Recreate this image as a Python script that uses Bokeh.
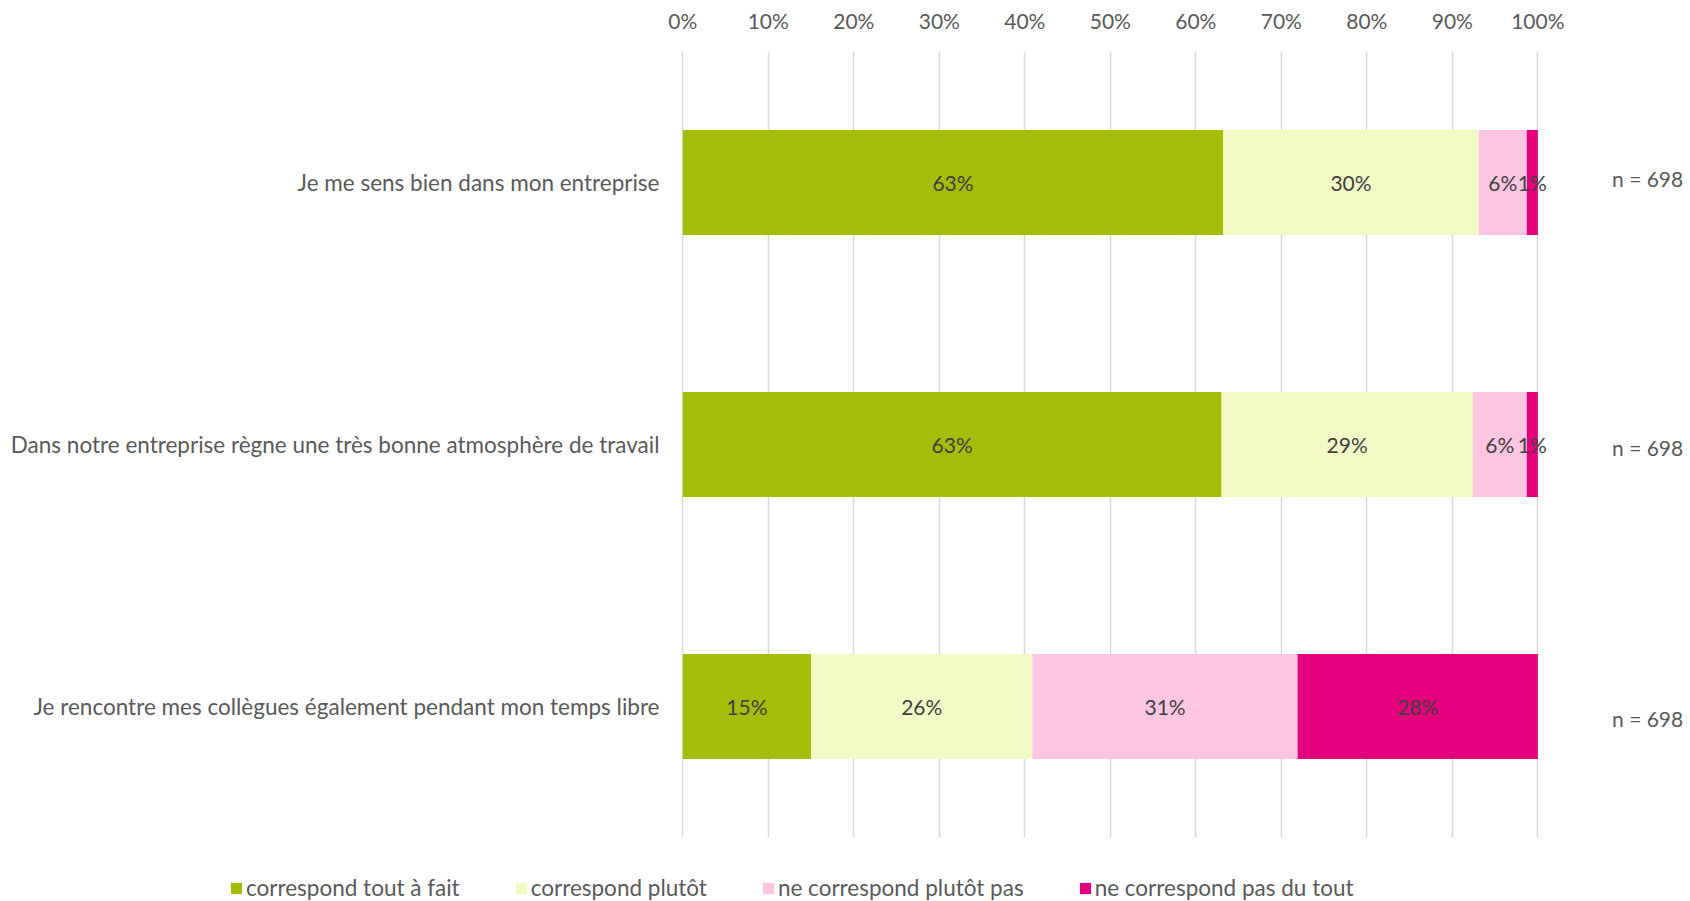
from bokeh.plotting import figure
from bokeh.models import (Range1d, FactorRange, FixedTicker, Legend, LegendItem,
                          ColumnDataSource)
from bokeh.core.properties import value
from bokeh.embed import file_html
from bokeh.resources import INLINE

categories = [
    "Je me sens bien dans mon entreprise",
    "Dans notre entreprise règne une très bonne atmosphère de travail",
    "Je rencontre mes collègues également pendant mon temps libre",
]
series_names = ["correspond tout à fait", "correspond plutôt",
                "ne correspond plutôt pas", "ne correspond pas du tout"]
tout_a_fait = [63.2, 63.0, 15.0]
plutot = [29.9, 29.4, 25.9]
plutot_pas = [5.6, 6.3, 31.0]
pas_du_tout = [1.3, 1.3, 28.1]
n_labels = ["n = 698", "n = 698", "n = 698"]
x_ticks = [0, 10, 20, 30, 40, 50, 60, 70, 80, 90, 100]

colors = ["#A5BD09", "#F3F9C5", "#FEC5E3", "#E5007D"]
series = [tout_a_fait, plutot, plutot_pas, pas_du_tout]

FONT = "Lato"
GREY = "#595959"

W = 1690
H_MAIN, H_LEG = 856, 45

p = figure(width=W, height=H_MAIN, output_backend="svg", toolbar_location=None,
           x_range=Range1d(-0.15, 117.85), y_range=FactorRange(*reversed(categories)),
           x_axis_location="above", min_border_left=681, min_border_right=0,
           min_border_top=51, min_border_bottom=19)
p.outline_line_color = None
p.ygrid.grid_line_color = None
p.xgrid.ticker = FixedTicker(ticks=x_ticks)
p.xgrid.grid_line_color = "#D9D9D9"
p.xgrid.grid_line_width = 1.5

xa = p.xaxis[0]
xa.ticker = FixedTicker(ticks=x_ticks)
xa.major_label_overrides = {t: f"{t}%" for t in x_ticks}
xa.axis_line_color = None
xa.major_tick_line_color = None
xa.minor_tick_line_color = None
xa.major_label_standoff = 13
xa.major_label_text_font = FONT
xa.major_label_text_font_size = "21px"
xa.major_label_text_color = GREY

ya = p.yaxis[0]
ya.axis_line_color = None
ya.major_tick_line_color = None
ya.minor_tick_line_color = None
ya.major_label_standoff = 16
ya.major_label_text_font = FONT
ya.major_label_text_font_size = "22.5px"
ya.major_label_text_color = GREY

left = [0.0] * len(categories)
for name, vals, col in zip(series_names, series, colors):
    right = [l + v for l, v in zip(left, vals)]
    src = ColumnDataSource(dict(y=categories, left=left, right=right,
                                mid=[(l + r) / 2 for l, r in zip(left, right)],
                                lab=[f"{round(v)}%" for v in vals]))
    p.hbar(y="y", left="left", right="right", height=0.4, source=src,
           fill_color=col, line_color=None)
    p.text(x="mid", y="y", text="lab", source=src, text_align="center",
           text_baseline="middle", text_font=value(FONT), text_font_size="21px",
           text_color="#404040")
    left = right

n_src = ColumnDataSource(dict(x=[117.0] * 3, y=categories, t=n_labels,
                              dy=[-4, 3, 12]))
p.text(x="x", y="y", text="t", source=n_src, text_align="right", y_offset="dy",
       text_baseline="middle", text_font=value(FONT), text_font_size="21px",
       text_color=GREY)

# legend strip (separate root so that its frame spans the full width)
lg = figure(width=W, height=H_LEG, output_backend="svg", toolbar_location=None,
            x_range=Range1d(0, 1), y_range=Range1d(0, 1),
            min_border=0, min_border_left=0, min_border_right=0,
            min_border_top=0, min_border_bottom=0)
lg.axis.visible = False
lg.grid.visible = False
lg.outline_line_color = None
items = []
for name, col in zip(series_names, colors):
    # proxy glyph placed outside the visible range; only its legend swatch shows
    r = lg.hbar(y=[-5], left=[0], right=[1], height=1, fill_color=col, line_color=None)
    items.append(LegendItem(label=name, renderers=[r]))
legend = Legend(items=items, orientation="horizontal", location=(229, 0),
                glyph_width=14, glyph_height=14, label_standoff=3, spacing=54,
                padding=0, margin=0, border_line_color=None,
                background_fill_alpha=0, label_text_font=FONT,
                label_text_font_size="22.5px", label_text_color=GREY)
lg.add_layout(legend, "center")

open("out.html", "w").write(file_html([p, lg], INLINE))
